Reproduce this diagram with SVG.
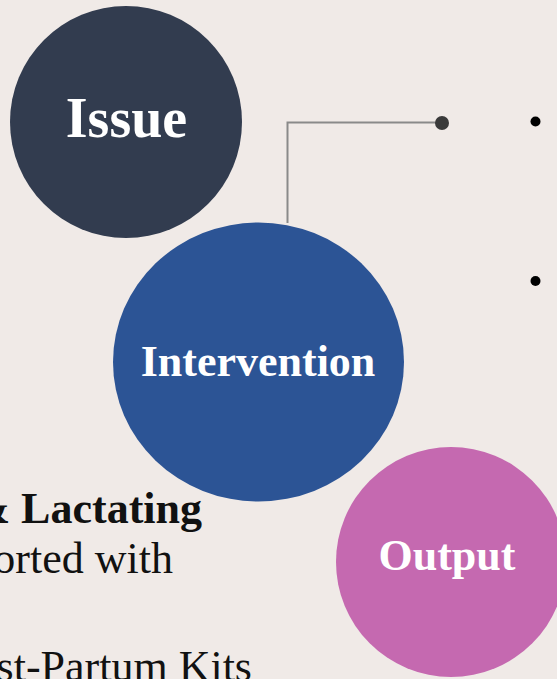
<svg xmlns="http://www.w3.org/2000/svg" width="557" height="679" viewBox="0 0 557 679">
<style>
.lbl{font-family:"Liberation Serif","Times New Roman",serif;font-weight:bold;fill:#ffffff;text-anchor:middle;}
.body{font-family:"Liberation Serif","Times New Roman",serif;font-size:44px;fill:#111111;}
.conn{fill:none;stroke:#8a8a8a;stroke-width:2;}
</style>
<rect x="0" y="0" width="557" height="679" fill="#F0EAE7"/>
<g id="text-left">
<text class="body" x="202" y="523" text-anchor="end" font-weight="bold">&amp; Lactating</text>
<text class="body" x="173" y="573" text-anchor="end">orted with</text>
<text class="body" x="252" y="681" text-anchor="end">st-Partum Kits</text>
</g>
<g id="connectors">
<polyline class="conn" points="287.5,223 287.5,122.5 442,122.5"/>
<circle cx="442" cy="123" r="7" fill="#3a3a3a"/>
</g>
<g id="bullets">
<circle cx="535.5" cy="121.5" r="5" fill="#000"/>
<circle cx="535.5" cy="281" r="5" fill="#000"/>
</g>
<g id="issue">
<circle cx="126" cy="122" r="116" fill="#323C4F"/>
<text class="lbl" x="126.5" y="137" font-size="56">Issue</text>
</g>
<g id="intervention">
<ellipse cx="258.5" cy="362" rx="145.5" ry="139.5" fill="#2C5495"/>
<text class="lbl" x="258" y="376" font-size="44">Intervention</text>
</g>
<g id="output">
<circle cx="451" cy="562" r="115" fill="#C569B0"/>
<text class="lbl" x="447" y="570" font-size="44">Output</text>
</g>
</svg>
